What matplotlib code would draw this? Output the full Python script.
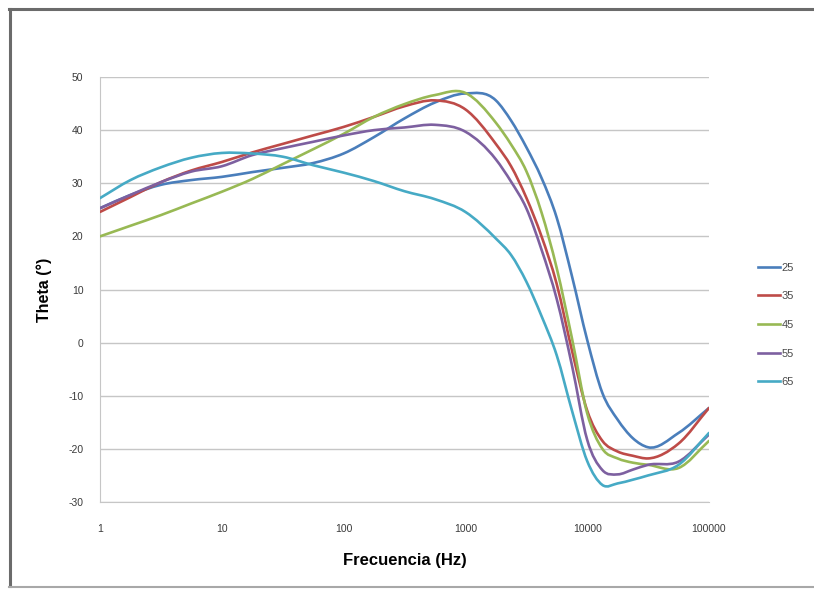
import numpy as np
import matplotlib
matplotlib.use("Agg")
import matplotlib.pyplot as plt
from matplotlib.path import Path
from matplotlib.patches import PathPatch
from matplotlib.lines import Line2D
from matplotlib.ticker import FixedLocator, FixedFormatter, NullLocator

# phase angle vs frequency, one curve per temperature
freq = [1, 1.78, 3.16, 5.62, 10, 17.8, 31.6, 56.2, 100, 178, 316, 562, 1000,
        1778, 2371, 3162, 4217, 5623, 7499, 10000, 13335, 17783, 23714, 31623, 56234, 100000]
theta_25 = [25.3, 27.8, 29.7, 30.6, 31.2, 32.1, 32.9, 33.8, 35.6, 38.7, 42.2, 45.2, 46.9,
            45.6, 41.8, 36.8, 31.0, 23.5, 12.5, 0.5, -9.5, -14.5, -18.0, -19.7, -17.0, -12.3]
theta_35 = [24.6, 27.4, 30.2, 32.4, 34.0, 35.8, 37.4, 39.0, 40.6, 42.5, 44.5, 45.6, 43.9,
            37.4, 33.2, 27.3, 20.0, 11.0, -1.5, -12.8, -18.5, -20.5, -21.3, -21.8, -19.0, -12.3]
theta_45 = [20.0, 22.0, 24.0, 26.2, 28.4, 30.8, 33.6, 36.4, 39.3, 42.5, 44.9, 46.6, 47.0,
            41.4, 37.3, 32.3, 24.5, 14.0, 0.8, -13.3, -20.0, -21.8, -22.6, -23.0, -23.6, -18.5]
theta_55 = [25.3, 27.8, 30.2, 32.2, 33.2, 35.3, 36.6, 37.8, 39.0, 40.0, 40.5, 41.0, 39.7,
            34.5, 30.3, 25.3, 17.5, 8.2, -4.3, -18.3, -24.0, -24.8, -23.9, -23.0, -22.4, -17.3]
theta_65 = [27.2, 30.6, 33.0, 34.8, 35.7, 35.6, 35.0, 33.4, 32.0, 30.4, 28.5, 27.0, 24.6,
            19.6, 16.5, 11.5, 5.0, -2.4, -12.8, -22.3, -26.8, -26.5, -25.8, -25.0, -23.0, -17.0]
labels = ["25", "35", "45", "55", "65"]
colors = ["#4a7ebb", "#be4b48", "#98b954", "#7d60a0", "#46aac5"]

x_ticks = [1, 10, 100, 1000, 10000, 100000]
y_ticks = list(range(-30, 51, 10))

plt.rcParams["font.family"] = ["Liberation Sans", "DejaVu Sans"]


def smooth_path(f, y):
    """Cubic Hermite bezier through the points, built in log-x space."""
    x = np.log10(f)
    y = np.asarray(y, float)
    h = np.diff(x)
    d = np.diff(y) / h
    m = np.empty_like(y)
    m[0], m[-1] = d[0], d[-1]
    m[1:-1] = (d[:-1] * h[1:] + d[1:] * h[:-1]) / (h[:-1] + h[1:])
    verts, codes = [(x[0], y[0])], [Path.MOVETO]
    for i in range(len(x) - 1):
        dx = h[i] / 3
        verts += [(x[i] + dx, y[i] + m[i] * dx),
                  (x[i + 1] - dx, y[i + 1] - m[i + 1] * dx),
                  (x[i + 1], y[i + 1])]
        codes += [Path.CURVE4] * 3
    verts = np.array(verts)
    verts[:, 0] = 10 ** verts[:, 0]
    return Path(verts, codes)


fig = plt.figure(figsize=(8.14, 5.89), dpi=100)
ax = fig.add_axes([100 / 814, 1 - 502 / 589, 609 / 814, 425 / 589])
ax.set_xscale("log")
ax.set_xlim(1, 100000)
ax.set_ylim(-30, 50)

for y in y_ticks:
    ax.axhline(y, color="#c6c6c6", lw=1.0, zorder=1)

series = [theta_25, theta_35, theta_45, theta_55, theta_65]
for vals, c in zip(series, colors):
    ax.add_patch(PathPatch(smooth_path(freq, vals), fill=False, edgecolor=c,
                           lw=1.9, capstyle="round", joinstyle="round", zorder=3))

ax.xaxis.set_major_locator(FixedLocator(x_ticks))
ax.xaxis.set_major_formatter(FixedFormatter([str(v) for v in x_ticks]))
ax.xaxis.set_minor_locator(NullLocator())
ax.yaxis.set_major_locator(FixedLocator(y_ticks))
ax.yaxis.set_major_formatter(FixedFormatter([str(v) for v in y_ticks]))
ax.tick_params(axis="both", length=0, labelsize=7.5, colors="#3a3a3a")
ax.tick_params(axis="y", pad=12)
ax.tick_params(axis="x", pad=16)
for s in ["top", "right"]:
    ax.spines[s].set_visible(False)
ax.spines["left"].set_color("#c6c6c6")
ax.spines["bottom"].set_color("#c6c6c6")

ax.set_xlabel("Frecuencia (Hz)", fontsize=12, fontweight="bold", labelpad=13.5)
fig.text(44 / 814, 1 - 290 / 589, "Theta (°)", rotation=90, fontsize=11.5,
         fontweight="bold", ha="center", va="center")

handles = [Line2D([], [], color=c, lw=1.9) for c in colors]
fig.legend(handles, labels, loc="center left", bbox_to_anchor=(748 / 814, 1 - 325 / 589),
           frameon=False, fontsize=8, handlelength=2.0, handletextpad=0.1,
           labelspacing=1.68, labelcolor="#4a4a4a")

# chart frame: dark left/top edges, lighter bottom edge
fig.add_artist(Line2D([10 / 814, 10 / 814], [3 / 589, 580 / 589],
                      transform=fig.transFigure, color="#6b6b6b", lw=2.2))
fig.add_artist(Line2D([9 / 814, 1.0], [580 / 589, 580 / 589],
                      transform=fig.transFigure, color="#6b6b6b", lw=2.2))
fig.add_artist(Line2D([9 / 814, 1.0], [2 / 589, 2 / 589],
                      transform=fig.transFigure, color="#a8a8a8", lw=1.5))

fig.savefig("out.png", dpi=100)
